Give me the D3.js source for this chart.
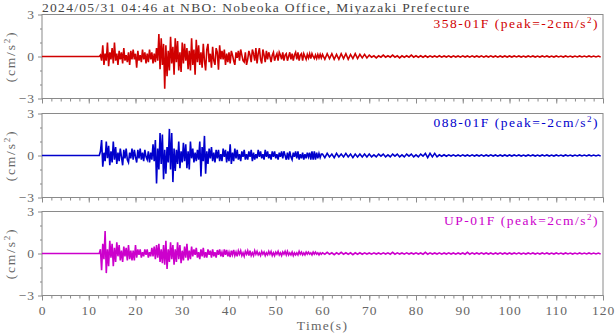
<!DOCTYPE html>
<html>
<head>
<meta charset="utf-8">
<script src="https://cdn.jsdelivr.net/npm/d3@7"></script>
<style>
  body { margin: 0; background: #fff; }
  text { font-family: "Liberation Serif", "Times New Roman", serif; }
</style>
</head>
<body>
<svg id="chart" width="616" height="334"></svg>
<script>
// ---- data -------------------------------------------------------------
const title = "2024/05/31 04:46 at NBO: Nobeoka Office, Miyazaki Prefecture";
const components = ["358-01F", "088-01F", "UP-01F"];
const peaks = [-2, -2, 2];            // cm/s^2
const timeMajorTicks = [0, 10, 20, 30, 40, 50, 60, 70, 80, 90, 100, 110, 120];
const accTicks = [-3, 0, 3];
const accMinorTicks = [-2, -1, 1, 2];

// sampling of the records (seconds)
const onsetTime = 12.5, mainStep = 0.25;   // main shaking, 12.5 s .. 59.75 s
const codaStart = 60, codaStep = 0.5;      // coda, 60 s .. 119.5 s

// acceleration, cm/s^2
const acc358Main = [
  0.1,-0.3,0.8,-0.6, 0.2,-0.3,1.0,-0.7, 0.3,-0.2,0.6,-0.5, 1.0,-0.3,0.2,-0.6,
  0.4,-0.2,0.3,-0.5, 0.6,-0.3,0.1,-0.4, 0.3,-0.6,0.4,-0.2, 0.5,-0.2,0.2,-0.8,
  0.4,-0.3,0.1,-0.4, 0.5,-0.2,0.3,-0.5, 0.2,-0.4,0.5,-0.2, 0.3,-0.5,0.2,-0.4,
  0.6,-0.3,1.6,-0.9, 1.3,-0.6,0.9,-2.3, 0.8,-1.4,0.4,-1.0, 1.4,-0.5,0.7,-1.3,
  1.3,-0.4,1.1,-1.0, 0.3,-1.1,1.0,-0.5, 0.9,-0.3,0.6,-0.9, 0.4,-1.0,1.3,-0.6,
  0.5,-1.3,1.2,-0.4, 0.8,-0.6,0.3,-0.8, 0.9,-0.3,-1.0,0.5, 0.9,-0.4,0.2,-0.8,
  0.7,-0.3,-0.6,0.6, 0.3,-0.95,0.8,-0.2, 0.4,-0.2,0.5,-0.6, 0.2,-0.4,0.3,-0.5,
  0.4,0.1,-0.3,-0.6, 0.3,-0.1,0.4,-0.3, 0.5,0.1,-0.3,-0.4, 0.3,-0.6,-0.2,0.4,
  0.1,-0.4,0.5,0.2, -0.3,0.6,-0.5,0.2, 0.6,-0.2,-0.5,0.5, 0.1,-0.4,0.4,-0.2,
  0.3,0.0,-0.4,0.1, 0.3,-0.3,0.0,0.2, -0.3,0.3,0.1,-0.2, 0.3,-0.3,0.1,0.2,
  -0.3,0.0,0.3,-0.2, 0.2,-0.3,0.1,0.3, -0.2,0.3,-0.3,0.1, 0.2,-0.3,0.2,0.0,
  -0.2,0.15,-0.1,0.2, -0.15,0.2,0.0,-0.15, 0.1,-0.15,0.15,-0.1, 0.15,-0.1
];
const acc358Coda = [
  0.15,-0.2,0.2,-0.15,0.2,-0.2,0.15,-0.2,0.2,-0.15,0.2,-0.2,0.15,-0.15,0.2,-0.15,0.15,-0.1,0.15,-0.1,
  0.1,-0.05,0.05,-0.1,0.05,-0.05,0.1,-0.05,0.05,-0.05,0.1,-0.05,0.05,-0.1,0.05,-0.05,0.05,-0.05,0.1,-0.05,
  0.05,-0.05,0.05,-0.05,0.05,-0.05,0.05,-0.04,0.04,-0.05,0.05,-0.05,0.04,-0.04,0.05,-0.05,0.05,-0.04,0.04,-0.05,
  0.05,-0.04,0.04,-0.05,0.05,-0.04,0.04,-0.04,0.05,-0.05,0.04,-0.04,0.05,-0.04,0.04,-0.05,0.04,-0.04,0.04,-0.04,
  0.04,-0.04,0.04,-0.03,0.04,-0.04,0.03,-0.04,0.04,-0.03,0.04,-0.04,0.03,-0.04,0.04,-0.03,0.04,-0.04,0.03,-0.04,
  0.04,-0.03,0.03,-0.04,0.04,-0.03,0.03,-0.04,0.03,-0.03,0.04,-0.03,0.03,-0.03,0.04,-0.03,0.03,-0.03,0.03,-0.03
];

const acc088Main = [
  0.3,1.1,-0.8,0.2, -0.4,1.0,-0.2,0.7, -0.7,0.3,-0.5,1.0, -0.3,0.6,-0.6,0.2,
  -0.4,0.5,-0.1,-0.7, 0.4,-0.2,0.5,-0.3, -0.5,0.2,-0.2,0.5, -0.3,0.4,-0.1,-0.5,
  0.4,-0.2,0.5,-0.3, 0.2,-0.4,0.4,-0.1, -0.3,0.3,-0.5,0.2, -0.3,0.8,-0.4,1.1,
  -2.0,0.5,-1.0,1.6, -0.6,1.5,-1.7,0.4, -1.3,0.6,-0.5,1.9, -1.0,1.6,-1.9,0.5,
  -1.1,0.4,-0.6,1.0, -0.9,0.3,-0.5,0.9, -0.4,0.8,-0.9,0.3, -1.0,1.0,-0.2,0.5,
  -0.5,0.2,-0.4,0.4, -0.3,1.0,-1.5,0.6, -0.4,1.4,-1.3,0.3, -0.6,0.5,-0.2,0.6,
  -0.4,0.2,-0.5,0.4, -0.2,0.4,-0.4,0.1, -0.4,0.5,-0.1,0.4, -0.5,0.3,-0.4,0.8,
  -0.6,0.2,-0.4,0.5, -0.2,0.4,-0.3,0.1, -0.4,0.3,-0.1,0.4, -0.3,0.1,-0.3,0.3,
  -0.1,0.4,-0.4,0.2, -0.3,0.1,-0.2,0.4, -0.1,0.3,-0.2,0.1, -0.3,0.4,-0.1,0.3,
  -0.2,0.1,-0.3,0.3, -0.1,0.3,-0.2,0.1, -0.3,0.2,-0.1,0.3, -0.2,0.3,0.0,-0.3,
  0.2,-0.3,0.3,-0.1, -0.3,0.2,-0.1,0.3, -0.2,0.3,-0.3,0.1, -0.2,0.2,-0.3,0.1,
  -0.2,0.2,-0.1,0.2, -0.3,0.3,-0.3,0.3, -0.3,0.2,-0.2,0.15, -0.15,0.1
];
const acc088Coda = [
  0.1,-0.15,0.15,-0.1,0.1,-0.15,0.15,-0.1,0.1,-0.1,0.15,-0.1,0.1,-0.15,0.1,-0.1,0.1,-0.1,0.1,-0.1,
  0.1,-0.1,0.05,-0.1,0.1,-0.05,0.1,-0.1,0.05,-0.1,0.1,-0.05,0.1,-0.1,0.05,-0.1,0.1,-0.05,0.1,-0.1,
  0.05,-0.1,0.1,-0.05,0.15,-0.15,0.15,-0.1,0.15,-0.1,0.05,-0.05,0.05,-0.05,0.05,-0.04,0.05,-0.05,0.04,-0.05,
  0.05,-0.04,0.04,-0.05,0.05,-0.04,0.04,-0.04,0.05,-0.05,0.04,-0.04,0.05,-0.04,0.04,-0.05,0.04,-0.04,0.04,-0.04,
  0.04,-0.04,0.04,-0.03,0.04,-0.04,0.03,-0.04,0.04,-0.03,0.04,-0.04,0.03,-0.04,0.04,-0.03,0.04,-0.04,0.03,-0.04,
  0.04,-0.03,0.03,-0.04,0.04,-0.03,0.03,-0.04,0.03,-0.03,0.04,-0.03,0.03,-0.03,0.04,-0.03,0.03,-0.03,0.03,-0.03
];

const accUPMain = [
  0.3,-1.2,0.7,-0.4, 1.6,-1.4,0.3,-0.9, 0.9,-0.3,0.7,-0.9, 0.4,-0.6,0.8,-0.2,
  0.6,-0.5,0.2,-0.6, 0.5,-0.2,0.4,-0.5, 0.6,-0.4,0.2,-0.5, 0.2,-0.5,0.6,-0.3,
  0.3,-0.1,0.3,-0.3, 0.1,-0.2,0.3,-0.1, 0.3,-0.3,0.1,-0.2, 0.4,-0.2,0.5,-0.4,
  0.6,-0.3,0.7,-0.6, 0.3,-0.7,0.6,-0.8, 0.9,-1.1,0.3,-0.6, 0.8,-0.4,0.6,-0.8,
  0.3,-0.6,0.8,-0.4, 0.6,-0.7,0.2,-0.5, 0.5,-0.3,0.7,-0.5, 0.2,-0.4,0.5,-0.2,
  0.3,-0.1,0.4,-0.3, 0.1,-0.4,0.3,-0.2, 0.4,-0.3,0.1,-0.3, 0.3,-0.1,0.2,-0.3,
  0.3,-0.2,0.1,-0.3, 0.25,-0.1,0.3,-0.2, 0.1,-0.25,0.3,-0.1, 0.25,-0.2,0.1,-0.25,
  0.2,-0.1,0.25,-0.15, 0.1,-0.2,0.2,-0.05, 0.2,-0.15,0.05,-0.2, 0.15,-0.05,0.2,-0.15,
  0.2,-0.15,0.05,-0.15, 0.2,-0.05,0.15,-0.1, 0.05,-0.15,0.15,-0.05, 0.1,-0.15,0.05,-0.1,
  0.15,-0.05,0.15,-0.15, 0.05,-0.15,0.1,-0.05, 0.15,-0.1,0.05,-0.15, 0.1,-0.05,0.15,-0.1,
  0.15,-0.1,0.05,-0.1, 0.1,-0.15,0.05,-0.1, 0.05,-0.1,0.15,-0.05, 0.1,-0.1,0.05,-0.1,
  0.1,-0.05,0.1,-0.05, 0.05,-0.1,0.1,-0.05, 0.1,-0.05,0.05,-0.1, 0.05,-0.05
];
const accUPCoda = [
  0.05,-0.05,0.08,-0.05,0.05,-0.08,0.05,-0.05,0.08,-0.05,0.05,-0.05,0.05,-0.08,0.05,-0.05,0.05,-0.05,0.05,-0.04,
  0.04,-0.05,0.05,-0.04,0.04,-0.05,0.05,-0.04,0.05,-0.05,0.08,-0.05,0.05,-0.04,0.04,-0.05,0.05,-0.04,0.04,-0.04,
  0.05,-0.04,0.04,-0.05,0.08,-0.05,0.05,-0.04,0.04,-0.04,0.05,-0.05,0.04,-0.04,0.05,-0.04,0.04,-0.05,0.04,-0.04,
  0.04,-0.05,0.08,-0.05,0.05,-0.04,0.04,-0.04,0.05,-0.04,0.04,-0.04,0.04,-0.05,0.04,-0.04,0.05,-0.04,0.04,-0.04,
  0.04,-0.04,0.04,-0.03,0.05,-0.04,0.03,-0.04,0.04,-0.03,0.04,-0.04,0.03,-0.04,0.04,-0.03,0.04,-0.04,0.03,-0.04,
  0.04,-0.03,0.03,-0.04,0.04,-0.03,0.03,-0.04,0.03,-0.03,0.04,-0.03,0.03,-0.03,0.04,-0.03,0.03,-0.03,0.03,-0.03
];

const mainRecords = [acc358Main, acc088Main, accUPMain];
const codaRecords = [acc358Coda, acc088Coda, accUPCoda];

// ---- styling / layout -------------------------------------------------
const traceColors = ["#d00000", "#0000cc", "#cc00cc"];
const axisColor = "#8a8a8a";
const labelColor = "#666";
const plotLeft = 42, plotRight = 603;
const panelTops = [14.5, 113.5, 211.5];
const panelHeight = 84;
const spacing = 1.3;   // letter spacing of the title and axis titles

const svg = d3.select("#chart");
const x = d3.scaleLinear().domain([0, 120]).range([plotLeft, plotRight]);

// build time/value pairs for one component
function buildTrace(i) {
  const pts = [[0, 0], [onsetTime - mainStep, 0]];
  mainRecords[i].forEach((v, k) => pts.push([onsetTime + k * mainStep, v]));
  codaRecords[i].forEach((v, k) => pts.push([codaStart + k * codaStep, v]));
  return pts;
}

svg.append("text")
  .attr("x", plotLeft).attr("y", 11.5)
  .attr("font-size", 13.5).attr("fill", "#444")
  .attr("letter-spacing", spacing)
  .text(title);

components.forEach((name, i) => {
  const top = panelTops[i], bottom = top + panelHeight;
  const y = d3.scaleLinear().domain([-3, 3]).range([bottom, top]);
  const g = svg.append("g");

  // frame
  g.append("rect")
    .attr("x", plotLeft).attr("y", top)
    .attr("width", plotRight - plotLeft).attr("height", panelHeight)
    .attr("fill", "none").attr("stroke", axisColor).attr("stroke-width", 1);

  // bottom axis: minor + major ticks
  const xMinor = g.append("g").attr("transform", `translate(0,${bottom})`)
    .call(d3.axisBottom(x).tickValues(d3.range(0, 121, 2)).tickSize(3).tickFormat(""));
  const xMajor = g.append("g").attr("transform", `translate(0,${bottom})`)
    .call(d3.axisBottom(x).tickValues(timeMajorTicks).tickSize(5).tickPadding(2)
      .tickFormat(i === components.length - 1 ? d3.format("d") : ""));
  [xMinor, xMajor].forEach(a => {
    a.select(".domain").remove();
    a.selectAll("line").attr("stroke", axisColor);
    a.selectAll("text").attr("fill", labelColor).attr("font-size", 13.5)
      .attr("font-family", "Liberation Serif, serif")
      .attr("letter-spacing", 1).attr("dy", "0.95em");
  });

  // left axis
  const yMinor = g.append("g").attr("transform", `translate(${plotLeft},0)`)
    .call(d3.axisLeft(y).tickValues(accMinorTicks).tickSize(2).tickFormat(""));
  const yMajor = g.append("g").attr("transform", `translate(${plotLeft},0)`)
    .call(d3.axisLeft(y).tickValues(accTicks).tickSize(4).tickPadding(3).tickFormat(d3.format("d")));
  [yMinor, yMajor].forEach(a => {
    a.select(".domain").remove();
    a.selectAll("line").attr("stroke", axisColor);
    a.selectAll("text").attr("fill", labelColor).attr("font-size", 13.5)
      .attr("font-family", "Liberation Serif, serif").attr("letter-spacing", 1);
  });

  // y label
  const yl = g.append("text")
    .attr("transform", `translate(15,${(top + bottom) / 2}) rotate(-90)`)
    .attr("text-anchor", "middle").attr("fill", labelColor).attr("font-size", 13.5)
    .attr("letter-spacing", 1.8);
  yl.append("tspan").text("(cm/s");
  yl.append("tspan").attr("dy", -5).attr("font-size", 9).text("2");
  yl.append("tspan").attr("dy", 5).text(")");

  // waveform
  const line = d3.line().x(d => x(d[0])).y(d => y(d[1]));
  g.append("path")
    .datum(buildTrace(i))
    .attr("fill", "none")
    .attr("stroke", traceColors[i])
    .attr("stroke-width", 1.6)
    .attr("d", line);

  // component label
  const lab = g.append("text")
    .attr("x", 599).attr("y", top + 13.5)
    .attr("text-anchor", "end").attr("fill", traceColors[i]).attr("font-size", 13.5)
    .attr("letter-spacing", 1.5);
  lab.append("tspan").text(`${name} (peak=${peaks[i]}cm/s`);
  lab.append("tspan").attr("dy", -5).attr("font-size", 9).text("2");
  lab.append("tspan").attr("dy", 5).text(")");
});

svg.append("text")
  .attr("x", (plotLeft + plotRight) / 2).attr("y", 330)
  .attr("text-anchor", "middle").attr("fill", labelColor).attr("font-size", 13.5)
  .attr("letter-spacing", spacing)
  .text("Time(s)");
</script>
</body>
</html>
